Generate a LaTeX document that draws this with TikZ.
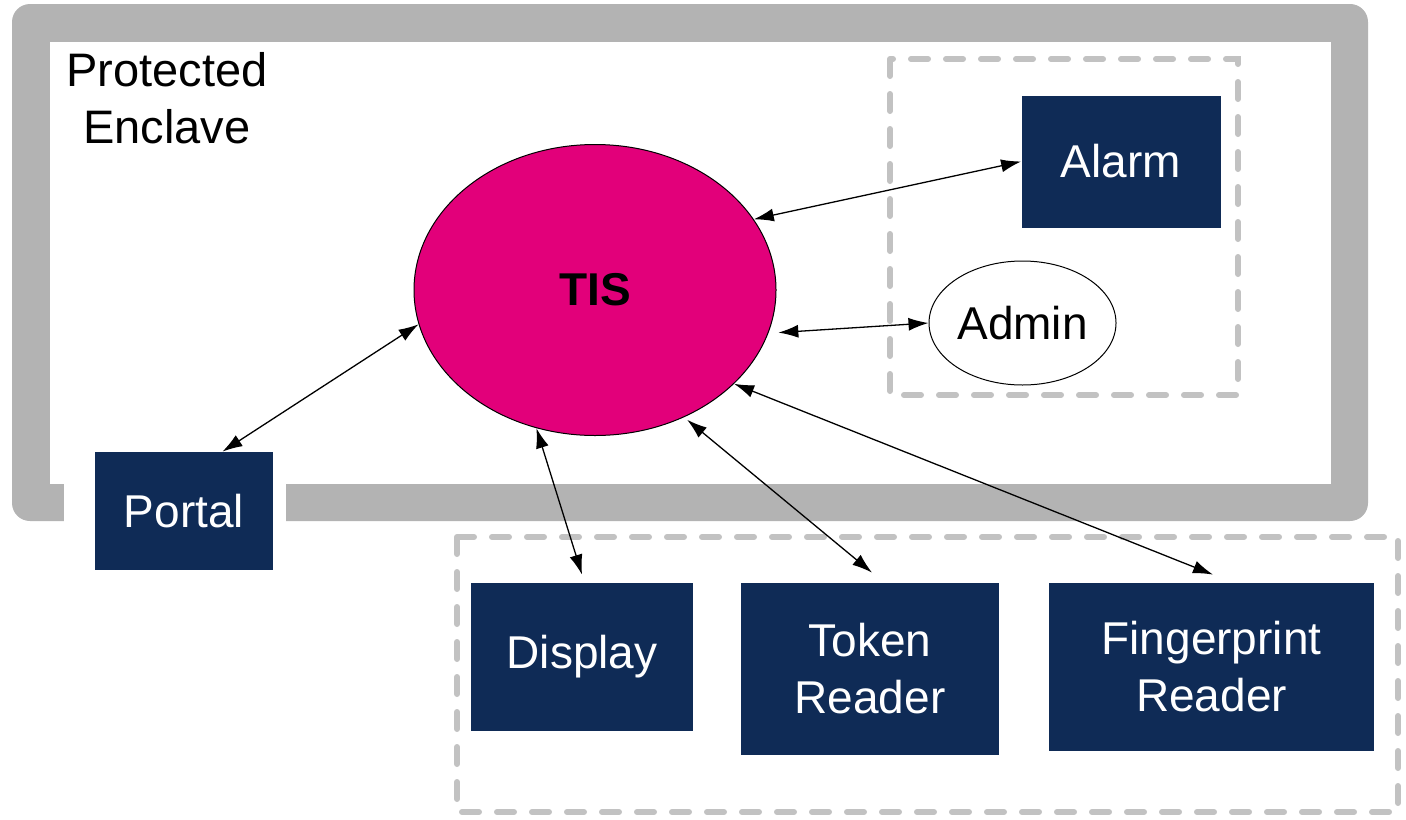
\documentclass[tikz,border=0pt]{standalone}
\usepackage{fontspec}
\setmainfont{Liberation Sans}
\usetikzlibrary{arrows.meta,calc,shapes.geometric}
\definecolor{navy}{HTML}{0F2B56}
\definecolor{tismag}{HTML}{E2007A}
\definecolor{framegray}{HTML}{B3B3B3}
\definecolor{dashgray}{HTML}{C2C2C2}
\tikzset{
  devbox/.style={fill=navy, text=white, inner sep=0pt, align=center,
    font=\fontsize{23}{28.5}\selectfont},
  groupbox/.style={draw=dashgray, line width=3pt, line cap=round,
    dash pattern=on 8.5pt off 9pt},
  conn/.style={{Latex[length=10pt,width=6.5pt]}-{Latex[length=10pt,width=6.5pt]}, line width=0.65pt},
}
\begin{document}
\begin{tikzpicture}[x=0.5pt,y=-0.5pt]
\useasboundingbox (0,0) rectangle (1406,819);
% enclave frame
\fill[framegray, rounded corners=9pt] (12,4) rectangle (1368,521);
\fill[white] (50,42) rectangle (1331,484);
\fill[white] (64,480) rectangle (286,526);
\node[align=center, anchor=north, inner sep=0pt, font=\fontsize{23.5}{28.5}\selectfont]
  (enclave) at (167,52) {Protected\\Enclave};
% dashed groups
\draw[groupbox] (890,59) rectangle (1238,395);
\draw[groupbox] (457,537) rectangle (1398,812);
% nodes
\node[ellipse, draw=black, line width=0.5pt, fill=tismag, minimum width=181pt,
  minimum height=145.5pt, inner sep=0pt, font=\fontsize{23}{28}\selectfont\bfseries]
  (tis) at (595,290) {TIS};
\node[devbox, minimum width=99.5pt, minimum height=66pt] (alarm) at (1121,161.5) {Alarm};
\node[ellipse, draw=black, line width=0.5pt, fill=white, minimum width=93.5pt,
  minimum height=62pt, inner sep=0pt, font=\fontsize{23}{28}\selectfont]
  (admin) at (1022.5,323) {Admin};
\node[devbox, minimum width=89pt, minimum height=59pt] (portal) at (184,511) {Portal};
\node[devbox, minimum width=111pt, minimum height=74pt] (display) at (582,657) {Display};
\node[devbox, minimum width=129pt, minimum height=86pt] (token) at (870,669) {Token\\Reader};
\node[devbox, minimum width=162.5pt, minimum height=84pt] (finger) at (1211.5,667) {Fingerprint\\Reader};
% free ends of connectors
\coordinate (portaltip) at ($(portal.north)!0.43!(portal.north east)$);
\coordinate (displaytip) at ($(display.north)+(0,-8)$);
\coordinate (tokentip) at ($(token.north)+(2,-10)$);
\coordinate (fingertip) at ($(finger.north)+(1.5,-8)$);
% connectors
\draw[conn] (tis.24.5) -- (alarm.west);
\draw[conn, shorten <=5pt] (tis.-14) -- (admin.west);
\draw[conn] (tis.191) -- (portaltip);
\draw[conn] (tis.247) -- (displaytip);
\draw[conn, shorten <=2pt] (tis.-55.3) -- (tokentip);
\draw[conn] (tis.-34) -- (fingertip);
\end{tikzpicture}
\end{document}
